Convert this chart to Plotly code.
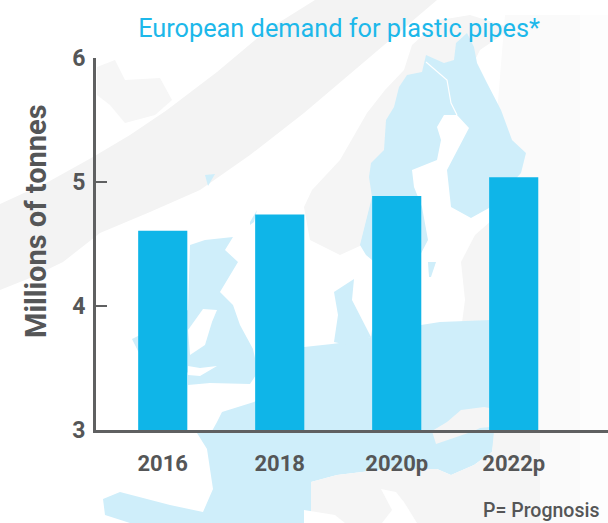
import plotly.graph_objects as go

W, H = 608, 523

# Chart data
categories = ["2016", "2018", "2020p", "2022p"]
demand_mt = [4.61, 4.74, 4.89, 5.04]
y_ticks = [3, 4, 5, 6]

TITLE = "European demand for plastic pipes*"
Y_TITLE = "Millions of tonnes"
NOTE = "P= Prognosis"

BLUE = "#0fb5e8"
TITLE_BLUE = "#1db8ea"
DARK = "#555657"
AXIS = "#5f6061"
MAP_BLUE = "#cfeefa"
GREY = "#f5f5f5"
LIGHT = "#fafafa"


def px(x, y):
    return x / W, (H - y) / H


def poly(points, fill, line=None, width=0, closed=True):
    parts = []
    for i, (x, y) in enumerate(points):
        a, b = px(x, y)
        parts.append(f"{'M' if i == 0 else 'L'}{a:.5f},{b:.5f}")
    path = " ".join(parts) + (" Z" if closed else "")
    return dict(type="path", path=path, xref="paper", yref="paper", layer="below",
                fillcolor=fill if closed else "rgba(0,0,0,0)",
                line=dict(color=line or "rgba(0,0,0,0)", width=width))


# Decorative backdrop: the faint map of Europe and the curved band behind the chart
band = [(0, 204), (48, 182), (93, 157), (130, 135), (167, 110), (217, 72), (267, 30), (315, 0), (437, 0), (370, 57),
        (304, 113), (250, 155), (200, 190), (150, 212), (100, 233), (63, 262), (30, 278), (0, 290)]
russia = [(505, 15), (608, 15), (608, 523), (540, 523), (540, 431), (490, 431), (490, 200)]
russia_far = [(580, 15), (608, 15), (608, 523), (580, 523)]
iceland = [(97, 67), (115, 60), (125, 80), (160, 78), (172, 100), (155, 115), (125, 123), (110, 105), (97, 95)]
norway = [(304, 207), (312, 190), (340, 160), (367, 113), (385, 90), (404, 70), (412, 45), (440, 20), (470, 15), (512, 28), (480, 50),
          (470, 70), (420, 90), (385, 190), (362, 245), (340, 255), (310, 240)]
nordic = [(467, 33), (456, 43), (454, 60), (444, 63), (426, 55), (422, 72), (407, 75), (399, 87), (394, 107), (386, 120),
          (384, 150), (371, 163), (369, 177), (372, 197), (360, 245), (366, 255), (390, 275), (415, 265), (428, 240),
          (422, 207), (414, 187), (412, 170), (437, 160), (441, 140), (437, 127), (444, 115), (457, 115), (469, 128),
          (447, 170), (451, 207), (471, 218), (489, 208), (521, 173), (526, 153), (512, 140), (501, 110), (487, 83),
          (477, 63), (474, 47)]
swe_fin_border = [(426, 62), (447, 80), (451, 103), (457, 115)]
baltics = [(461, 262), (475, 235), (490, 222), (500, 222), (500, 320), (462, 323), (465, 300)]
continent = [(197, 433), (212, 431), (217, 422), (222, 412), (254, 402), (290, 380), (304, 347), (332, 344), (347, 342),
             (371, 337), (372, 330), (421, 325), (440, 322), (491, 320), (495, 431), (494, 439), (492, 452), (474, 465),
             (451, 475), (437, 469), (387, 469), (337, 475), (311, 482), (311, 523), (130, 523), (105, 515), (103, 499),
             (120, 492), (170, 505), (203, 512), (213, 489), (207, 449)]
slovakia = [(432, 431), (447, 422), (461, 410), (484, 407), (500, 410), (510, 425), (480, 428), (474, 431), (436, 444)]
southeast = [(311, 482), (337, 475), (387, 469), (437, 469), (451, 475), (474, 465), (492, 452), (494, 431), (540, 431),
             (540, 523), (311, 523)]
adriatic = [(381, 489), (396, 492), (404, 502), (417, 523), (382, 523), (392, 510)]
ligurian = [(304, 510), (335, 515), (345, 523), (304, 523)]
britain = [(190, 245), (205, 240), (233, 237), (225, 250), (238, 262), (220, 292), (233, 305), (240, 325), (253, 349),
           (258, 372), (250, 384), (210, 383), (188, 385), (188, 310)]
ireland = [(132, 339), (140, 335), (188, 310), (188, 372), (180, 380), (140, 355)]
irish_sea = [(203, 309), (217, 310), (212, 322), (205, 345), (190, 355), (188, 330)]
bristol = [(188, 366), (200, 368), (217, 366), (200, 376), (188, 375)]
denmark = [(334, 292), (354, 279), (352, 300), (371, 337), (347, 345), (334, 342), (338, 315)]
gotland = [(428, 262), (436, 262), (431, 277), (429, 277)]
shetland = [(250, 222), (257, 210), (254, 222), (250, 225)]
faroe = [(205, 175), (215, 174), (208, 186)]

shapes = [
    poly(band, "#f3f3f3"),
    poly(russia, LIGHT),
    poly(russia_far, "#fdfdfd"),
    poly(iceland, "#f6f6f6"),
    poly(norway, GREY),
    poly(nordic, MAP_BLUE),
    poly(swe_fin_border, None, "#ffffff", 1.2, closed=False),
    poly(baltics, GREY),
    poly(continent, MAP_BLUE),
    poly(slovakia, GREY),
    poly(southeast, GREY),
    poly(adriatic, "#ffffff"),
    poly(ligurian, "#ffffff"),
    poly(ireland, MAP_BLUE),
    poly(britain, MAP_BLUE),
    poly(irish_sea, "#ffffff"),
    poly(bristol, "#ffffff"),
    poly(denmark, MAP_BLUE),
    poly(gotland, MAP_BLUE),
    poly(shetland, MAP_BLUE),
    poly(faroe, MAP_BLUE),
]

fig = go.Figure(go.Bar(x=categories, y=demand_mt, width=0.42, marker=dict(color=BLUE, line=dict(width=0))))

fig.update_layout(
    width=W, height=H,
    autosize=False,
    margin=dict(l=0, r=0, t=0, b=0),
    paper_bgcolor="#ffffff",
    plot_bgcolor="rgba(0,0,0,0)",
    showlegend=False,
    shapes=shapes,
    font=dict(family="Roboto, sans-serif", color=DARK),
    title=dict(text=TITLE, x=339 / W, xanchor="center", y=1 - 28 / H, yanchor="middle",
               font=dict(family="Roboto, sans-serif", size=25.3, color=TITLE_BLUE)),
    xaxis=dict(
        domain=[96 / W, 1],
        type="category",
        range=[-0.5705, 3.806],
        showgrid=False, zeroline=False,
        showline=True, linecolor=AXIS, linewidth=3,
        ticks="", ticklabelstandoff=11,
        tickfont=dict(family="Roboto, sans-serif", size=22, weight=700, color=DARK),
        automargin=False,
    ),
    yaxis=dict(
        domain=[(H - 430.3) / H, (H - 58.3) / H],
        range=[3, 6],
        tickmode="array", tickvals=y_ticks, ticktext=[str(t) for t in y_ticks],
        showgrid=False, zeroline=False,
        showline=True, linecolor=AXIS, linewidth=3,
        ticks="inside", ticklen=11, tickwidth=2, tickcolor=AXIS,
        ticklabelstandoff=3,
        tickfont=dict(family="Roboto, sans-serif", size=23, weight=700, color=DARK),
        automargin=False,
    ),
    annotations=[
        dict(text=NOTE, xref="paper", yref="paper", x=601 / W, y=(H - 510.5) / H,
             xanchor="right", yanchor="middle", showarrow=False,
             font=dict(family="Roboto, sans-serif", size=19.5, weight=500, color=DARK)),
        dict(text=Y_TITLE, xref="paper", yref="paper", x=36 / W, y=(H - 221) / H,
             xanchor="center", yanchor="middle", showarrow=False, textangle=-90,
             font=dict(family="Roboto, sans-serif", size=29, weight=700, color=DARK)),
    ],
)

fig.write_html("out.html", config={"displayModeBar": False}, post_script="document.body.style.margin='0';")
